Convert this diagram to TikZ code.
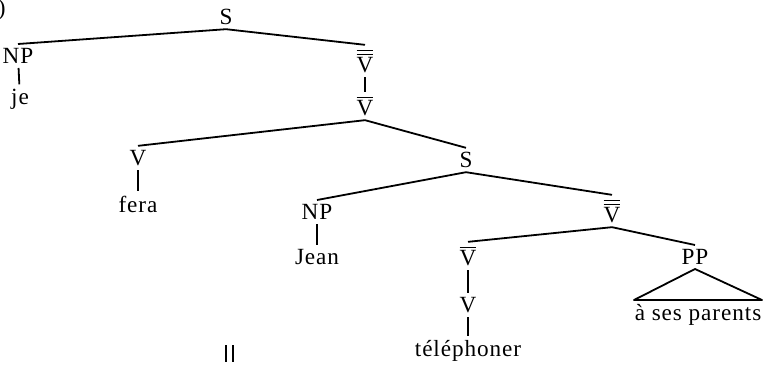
\documentclass[tikz,border=0pt]{standalone}
\usepackage{fontspec}
\setmainfont{Liberation Serif}[LetterSpace=4]
\newcommand{\Vb}{\ensuremath{\overline{\mbox{V}}}}
\newcommand{\Vbb}{\ensuremath{\overline{\overline{\mbox{V}}}}}

\begin{document}
\begin{tikzpicture}[x=0.5pt,y=-0.5pt,
    cat/.style={font=\fontsize{11.6}{13}\selectfont,inner sep=2pt},
    branch/.style={line width=0.9pt,line join=round}]
    \useasboundingbox (0,0) rectangle (763,364);
    \node[cat,anchor=east] (lbl) at (10,10) {)};

    \node[cat] (S1) at (226,17) {S};
    \node[cat] (NP1) at (18,56) {NP};
    \node[cat] (je) at (20,99) {je};
    \node[cat] (VV1) at (365,61) {\Vbb};
    \node[cat] (Vb1) at (365,106) {\Vb};
    \node[cat] (V1) at (138,158) {V};
    \node[cat] (fera) at (138,204) {fera};
    \node[cat] (S2) at (466,160) {S};
    \node[cat] (NP2) at (317,212) {NP};
    \node[cat] (jean) at (317,257) {Jean};
    \node[cat] (VV2) at (612,211) {\Vbb};
    \node[cat] (Vb2) at (468,256) {\Vb};
    \node[cat] (V2) at (468,305) {V};
    \node[cat] (tel) at (468,351) {téléphoner};
    \node[cat] (PP) at (695,257) {PP};
    \node[cat] (pp) at (698,315) {à ses parents};
    \coordinate (ppl) at (634,300);
    \coordinate (ppr) at (762,300);

    \draw[branch] (NP1.north) -- (S1.south) -- (VV1.north);
    \draw[branch] (NP1) -- (je);
    \draw[branch] (VV1) -- (Vb1);
    \draw[branch] (V1.north) -- (Vb1.south) -- (S2.north);
    \draw[branch] (V1) -- (fera);
    \draw[branch] (NP2.north) -- (S2.south) -- (VV2.north);
    \draw[branch] (NP2) -- (jean);
    \draw[branch] (Vb2.north) -- (VV2.south) -- (PP.north);
    \draw[branch] (Vb2) -- (V2) -- (tel);
    \draw[branch] (PP.south) -- (ppl) -- (ppr) -- cycle;

    \draw[line width=1.2pt] (226,345) -- (226,362) (233,345) -- (233,362);
\end{tikzpicture}
\end{document}
